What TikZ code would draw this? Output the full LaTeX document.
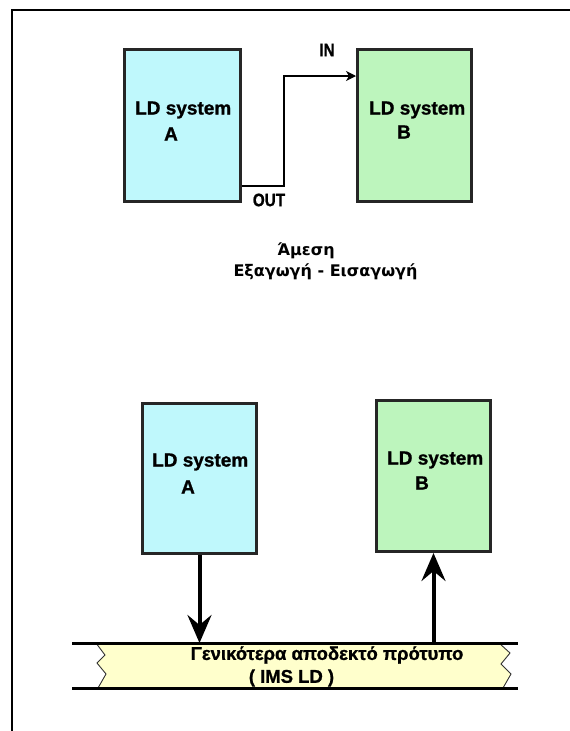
\documentclass[tikz,border=0pt]{standalone}
\usepackage{fontspec}
\setmainfont{Liberation Sans}[BoldFeatures={FakeBold=1}]
\newfontfamily\dejavu{DejaVu Sans}
\usetikzlibrary{arrows.meta,calc}
\definecolor{cyanfill}{HTML}{BFF8FC}
\definecolor{greenfill}{HTML}{BDF5BD}
\definecolor{yellowfill}{HTML}{FFFFCC}
\tikzset{
  sysbox/.style={draw=black!85,line width=3pt,rectangle,inner sep=0pt},
  lbl/.style={inner sep=0pt,font=\fontsize{19}{22}\selectfont\bfseries},
  small/.style={inner sep=0pt,font=\fontsize{18}{21}\selectfont\bfseries},
  greek/.style={inner sep=0pt,font=\dejavu\fontsize{16}{19}\selectfont\bfseries},
  bandtxt/.style={inner sep=0pt,font=\fontsize{18.5}{21}\selectfont\bfseries},
  bigarrow/.style={line width=4pt,-{Stealth[length=28pt,width=24pt,inset=10pt]}},
  thinarrow/.style={line width=1.4pt,-{Stealth[length=10pt,width=10pt,inset=3pt]}},
  bandline/.style={line width=3pt},
  zig/.style={line width=0.9pt,black!80}
}
\begin{document}
\begin{tikzpicture}[x=1pt,y=-1pt]
\useasboundingbox (0,0) rectangle (570,731);
\fill[white] (0,0) rectangle (570,731);
% frame
\draw[line width=2pt] (570,10) -| (12,731);

% top systems
\node[sysbox,fill=cyanfill,minimum width=116pt,minimum height=152pt] (boxA) at (182.5,125.5) {};
\node[sysbox,fill=greenfill,minimum width=114pt,minimum height=152pt] (boxB) at (414.5,125) {};
\node[lbl,anchor=west] (tA1) at (135,110) {LD system};
\node[lbl] (tA2) at (171,134) {A};
\node[lbl,anchor=west] (tB1) at (369,110) {LD system};
\node[lbl] (tB2) at (404,132) {B};
\node[small] (in) at (327,50) {\scalebox{0.85}[1]{IN}};
\node[small] (out) at (269,200) {\scalebox{0.85}[1]{OUT}};
\coordinate (o) at ($(boxA.south east)+(0,-17)$);
\coordinate (iny) at (0,76);
\draw[thinarrow] (o) -- ++(42,0) |- (boxB.west |- iny);

% caption
\node[greek] (c1) at (306,251) {Άμεση};
\node[greek] (c2) at (325.5,272) {Εξαγωγή - Εισαγωγή};

% band
\fill[yellowfill] (97,643) -- (105,655) -- (97,663) -- (106,674) -- (98,688)
  -- (503,688) -- (511,674) -- (501,664) -- (510,653) -- (499,643) -- cycle;
\draw[zig] (96,643) -- (105,655) -- (97,663) -- (106,674) -- (98,688);
\draw[zig] (499,643) -- (510,653) -- (501,664) -- (511,674) -- (503,688);
\draw[bandline] (72,643) -- (518,643);
\draw[bandline] (72,688) -- (518,688);
\coordinate (bandtop) at (0,643);
\node[bandtxt] (bt1) at (327,655) {Γενικότερα αποδεκτό πρότυπο};
\node[bandtxt] (bt2) at (291.5,678) {( IMS LD )};

% bottom systems
\node[sysbox,fill=cyanfill,minimum width=114pt,minimum height=150pt] (boxA2) at (199.5,478.5) {};
\node[sysbox,fill=greenfill,minimum width=114pt,minimum height=151pt] (boxB2) at (433.5,476) {};
\node[lbl,anchor=west] (tA3) at (152,462) {LD system};
\node[lbl] (tA4) at (188,487) {A};
\node[lbl,anchor=west] (tB3) at (387,460) {LD system};
\node[lbl] (tB4) at (422,483) {B};

\draw[bigarrow] (boxA2.south) -- (boxA2.south |- bandtop);
\draw[bigarrow] (boxB2.south |- bandtop) -- (boxB2.south);
\end{tikzpicture}
\end{document}
